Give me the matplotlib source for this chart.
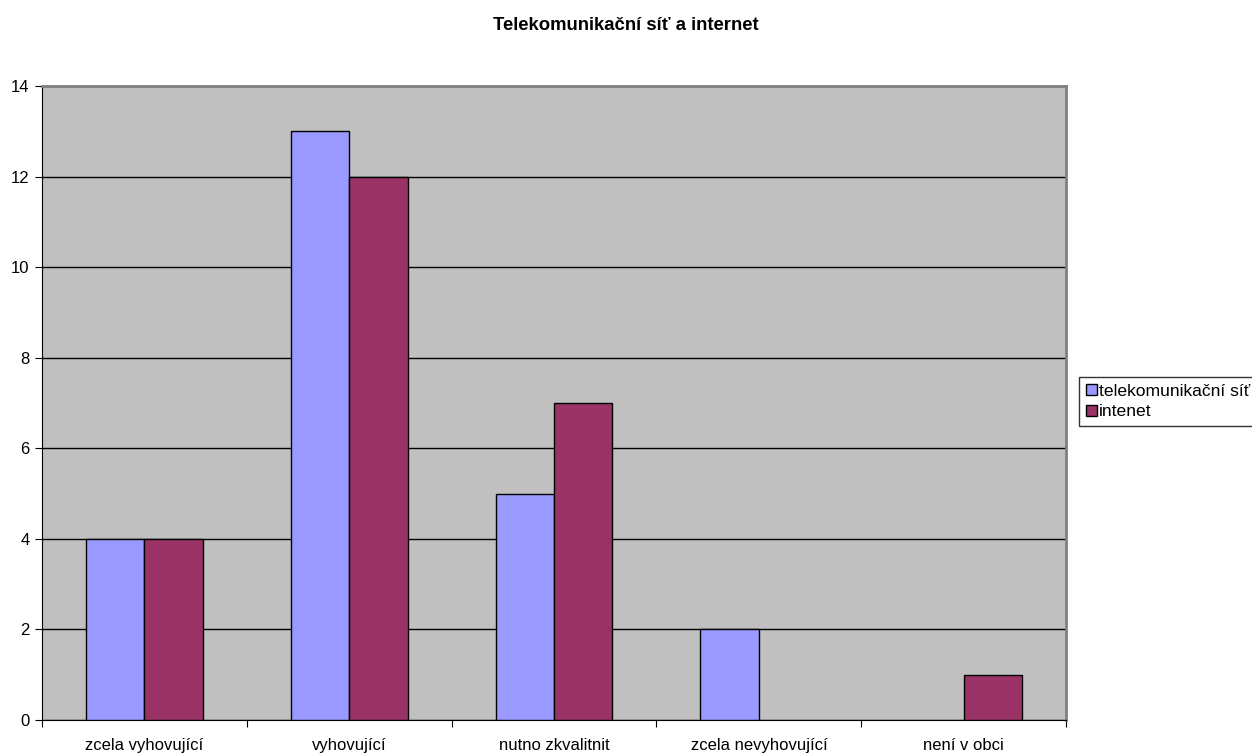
import matplotlib.pyplot as plt
import numpy as np

plt.rcParams['font.family'] = ['Liberation Sans', 'DejaVu Sans']

categories = ['zcela vyhovující', 'vyhovující', 'nutno zkvalitnit',
              'zcela nevyhovující', 'není v obci']
telekom = [4, 13, 5, 2, 0]
internet = [4, 12, 7, 0, 1]
series_names = ['telekomunikační síť', 'intenet']

fig = plt.figure(figsize=(12.52, 7.53), dpi=100)
ax = fig.add_axes([0.0335, 0.0438, 0.818, 0.842])
ax.set_facecolor('#C0C0C0')

x = np.arange(len(categories))
w = 0.285
# zero-height bars get no outline, as in the original
ax.bar(x - w/2, telekom, w, color='#9999FF', edgecolor='black',
       linewidth=[1 if v else 0 for v in telekom], label=series_names[0], zorder=3)
ax.bar(x + w/2, internet, w, color='#993366', edgecolor='black',
       linewidth=[1 if v else 0 for v in internet], label=series_names[1], zorder=3)

ax.set_xlim(-0.5, len(categories) - 0.5)
ax.set_ylim(0, 14)
ax.set_yticks(range(0, 15, 2))
ax.yaxis.grid(True, color='black', linewidth=1, zorder=1)
ax.set_axisbelow(True)

ax.set_xticks(np.arange(-0.5, len(categories), 1))
ax.set_xticklabels([])
ax.set_xticks(x, minor=True)
ax.set_xticklabels(categories, minor=True)
ax.tick_params(axis='x', which='minor', length=0, pad=13, labelsize=12)
ax.tick_params(axis='x', which='major', length=5, direction='out')
ax.tick_params(axis='y', length=5, direction='out', labelsize=12, pad=4)

for s in ['top', 'right']:
    ax.spines[s].set_color('#808080')
    ax.spines[s].set_linewidth(2)
for s in ['left', 'bottom']:
    ax.spines[s].set_color('black')

fig.text(0.5, 0.966, 'Telekomunikační síť a internet', ha='center', va='center',
         fontsize=13.3, fontweight='bold')

leg = fig.legend(loc='upper left', bbox_to_anchor=(1079/1252, 1 - 377/753),
                 frameon=True, fancybox=False, edgecolor='black', fontsize=12.6,
                 handlelength=0.6, handleheight=0.6, handletextpad=0.15,
                 borderpad=0.4, labelspacing=0.3, borderaxespad=0)
leg.get_frame().set_linewidth(1)

fig.savefig('out.png', dpi=100)
